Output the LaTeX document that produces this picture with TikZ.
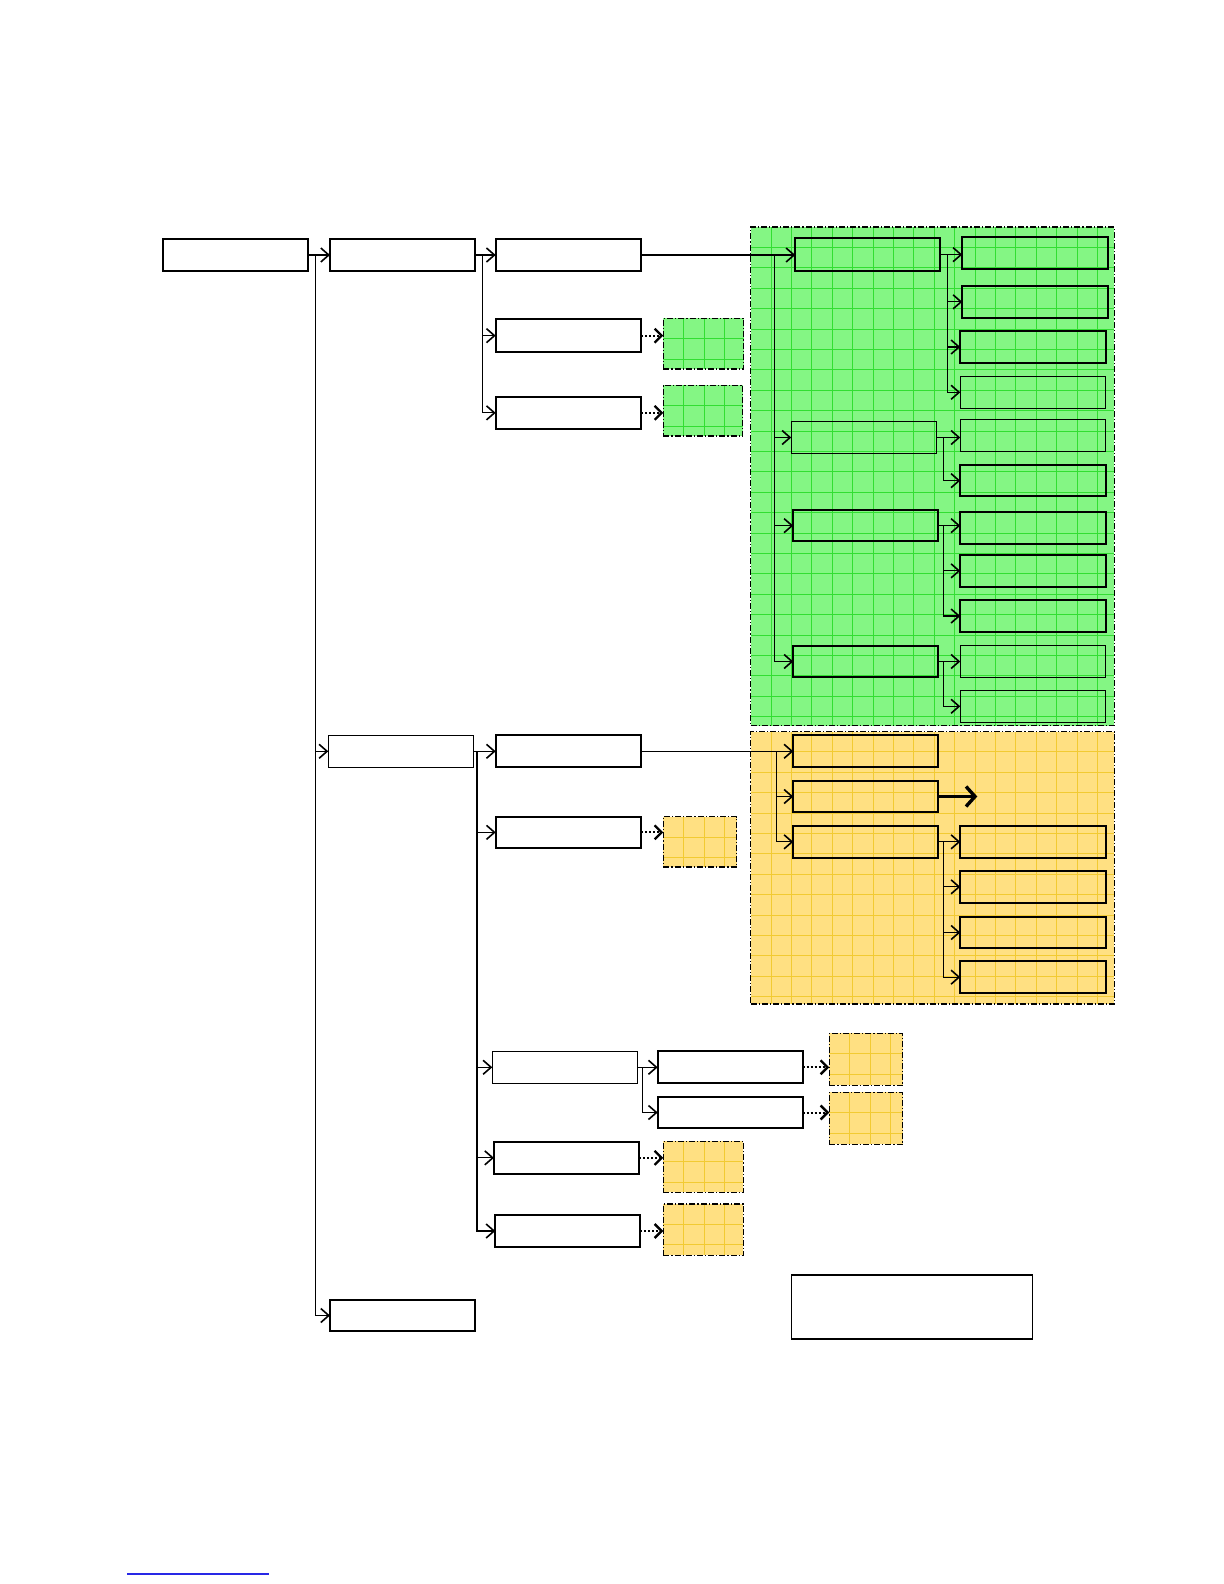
\documentclass[tikz,border=0pt]{standalone}
\usetikzlibrary{arrows.meta}
\definecolor{gfill}{RGB}{132,246,132}
\definecolor{gline}{RGB}{50,222,50}
\definecolor{yfill}{RGB}{255,224,130}
\definecolor{yline}{RGB}{242,202,50}
\definecolor{fnblue}{RGB}{40,40,230}
\tikzset{
  bx/.style={draw,inner sep=0pt,outer sep=0pt,line width=1.1pt},
  bxt/.style={draw,inner sep=0pt,outer sep=0pt,line width=0.7pt},
  region/.style={draw,inner sep=0pt,outer sep=0pt,line width=0.6pt,dash pattern=on 3pt off 1pt on 0.6pt off 1pt},
  con/.style={line width=0.6pt},
  arr/.style={con,-{Straight Barb[length=4pt,width=7pt,line width=0.8pt]}},
  dotarr/.style={line width=1pt,dash pattern=on 1pt off 1pt,-{Straight Barb[length=3.5pt,width=7pt,line width=1.2pt]}},
  bigarr/.style={line width=1.6pt,-{Straight Barb[length=4.5pt,width=10pt,line width=1.7pt]}}
}
\newcommand\BoxN[6]{\node[#2,minimum width={(#5-#3)*0.5pt},minimum height={(#6-#4)*0.5pt}] (#1) at ({(#3+#5)/2},{(#4+#6)/2}) {};}
\newcommand\GridRegion[7]{%
  \fill[#2] (#4,#5) rectangle (#6,#7);
  \begin{scope}
    \clip (#4,#5) rectangle (#6,#7);
    \foreach \k in {1,...,25}{%
      \draw[#3,line width=0.5pt] ({#4+20.4*\k},#5) -- ({#4+20.4*\k},#7);
      \draw[#3,line width=0.5pt] (#4,{#5+20.4*\k}) -- (#6,{#5+20.4*\k});
    }
  \end{scope}
  \BoxN{#1}{region}{#4}{#5}{#6}{#7}%
}
\begin{document}
\begin{tikzpicture}[x=0.5pt,y=-0.5pt]
\useasboundingbox[fill=white] (0,0) rectangle (1224,1584);

% shaded regions
\GridRegion{green}{gfill}{gline}{750.7}{227}{1114.3}{725.5}
\GridRegion{yellow}{yfill}{yline}{750.7}{731.5}{1114.3}{1004}
\GridRegion{gD}{gfill}{gline}{663.3}{318.3}{743.7}{369}
\GridRegion{gE}{gfill}{gline}{663.3}{385.3}{742.7}{436}
\GridRegion{yG}{yfill}{yline}{663.3}{816.7}{736.7}{867}
\GridRegion{yHa}{yfill}{yline}{829.3}{1033.3}{902.7}{1085.3}
\GridRegion{yHb}{yfill}{yline}{829.3}{1092.3}{902.7}{1144.3}
\GridRegion{yI}{yfill}{yline}{663.3}{1141.3}{743.3}{1192.3}
\GridRegion{yJ}{yfill}{yline}{663.3}{1204}{743.3}{1255.3}

% boxes
\BoxN{A}{bx}{162.7}{239}{308.3}{271}
\BoxN{B}{bx}{330}{239}{475}{271}
\BoxN{C}{bx}{495.7}{239}{641.3}{271}
\BoxN{D}{bx}{495.7}{319.3}{641.3}{352}
\BoxN{E}{bx}{495.7}{396.7}{641.3}{429}
\BoxN{Lb}{bxt}{328.3}{735.3}{473.7}{767.3}
\BoxN{Lc}{bx}{330}{1300}{475}{1331}
\BoxN{F}{bx}{495.7}{735.3}{641.3}{767.3}
\BoxN{G}{bx}{495.7}{816.7}{641.3}{848}
\BoxN{H}{bxt}{492.3}{1051.3}{637.7}{1083.3}
\BoxN{Ha}{bx}{657.7}{1051.3}{802.7}{1083.3}
\BoxN{Hb}{bx}{657.7}{1096.7}{802.7}{1128.3}
\BoxN{I}{bx}{494}{1141.7}{639.3}{1174}
\BoxN{J}{bx}{495.3}{1214.7}{640.3}{1247.3}
\BoxN{K}{bx}{795.3}{238.3}{940.3}{271}
\BoxN{Ka}{bx}{962.3}{236.7}{1107.7}{269}
\BoxN{Kb}{bx}{962.3}{285.7}{1107.7}{318}
\BoxN{Kc}{bx}{960.3}{330.7}{1105.7}{363.3}
\BoxN{Kd}{bxt}{960.3}{376.3}{1105.7}{408.3}
\BoxN{P}{bxt}{791.3}{421.7}{936.7}{453.3}
\BoxN{Pa}{bxt}{960.3}{419.3}{1105.7}{451.3}
\BoxN{Pb}{bx}{960.3}{465}{1105.7}{496.3}
\BoxN{Q}{bx}{793.3}{510}{938.3}{541.3}
\BoxN{Qa}{bx}{960.3}{511.7}{1105.7}{544}
\BoxN{Qb}{bx}{960.3}{554.7}{1105.7}{587}
\BoxN{Qc}{bx}{960.3}{600.3}{1105.7}{631.7}
\BoxN{R}{bx}{793.3}{645.7}{938.3}{677.3}
\BoxN{Ra}{bxt}{960.3}{645.7}{1105.7}{677.3}
\BoxN{Rb}{bxt}{960.3}{690.3}{1105.7}{722.3}
\BoxN{M}{bx}{793.3}{735.3}{938.3}{767.3}
\BoxN{Mb}{bx}{793.3}{780.7}{938.3}{812.3}
\BoxN{Mc}{bx}{793.3}{826}{938.3}{857.7}
\BoxN{Mca}{bx}{960.3}{826}{1105.7}{857.7}
\BoxN{Mcb}{bx}{960.3}{870.7}{1105.7}{903}
\BoxN{Mcc}{bx}{960.3}{916.7}{1105.7}{948.3}
\BoxN{Mcd}{bx}{960.3}{961.3}{1105.7}{993}
\BoxN{legend}{bxt}{791.3}{1275}{1032.7}{1339}

% junction points
\coordinate (t0) at (315.7,255);
\coordinate (b1) at (482.7,255);
\coordinate (b2) at (476.7,751.3);
\coordinate (g0) at (774.7,255);
\coordinate (k0) at (947.3,255);
\coordinate (p0) at (943.3,437.5);
\coordinate (q0) at (943.3,525.7);
\coordinate (r0) at (943.3,661.5);
\coordinate (m0) at (776.3,751.3);
\coordinate (mc0) at (943.3,841.9);
\coordinate (h0) at (642.7,1067.3);
\coordinate (mbend) at (977.3,796.5);
\coordinate (fnA) at (127,1574);
\coordinate (fnB) at (269,1574);

% connectors
\draw[arr] (A.east) -- (B.west);
\draw[arr] (t0) |- (Lb.west);
\draw[arr] (t0) |- (Lc.west);

\draw[arr] (B.east) -- (C.west);
\draw[arr] (b1) |- (D.west);
\draw[arr] (b1) |- (E.west);
\draw[dotarr] (D.east) -- (D.east -| gD.west);
\draw[dotarr] (E.east) -- (E.east -| gE.west);

\draw[arr] (C.east) -- (C.east -| K.west);
\draw[arr] (g0) |- (P.west);
\draw[arr] (g0) |- (Q.west);
\draw[arr] (g0) |- (R.west);

\draw[arr] (K.east) -- (K.east -| Ka.west);
\draw[arr] (k0) |- (Kb.west);
\draw[arr] (k0) |- (Kc.west);
\draw[arr] (k0) |- (Kd.west);

\draw[arr] (P.east) -- (P.east -| Pa.west);
\draw[arr] (p0) |- (Pb.west);
\draw[arr] (Q.east) -- (Q.east -| Qa.west);
\draw[arr] (q0) |- (Qb.west);
\draw[arr] (q0) |- (Qc.west);
\draw[arr] (R.east) -- (Ra.west);
\draw[arr] (r0) |- (Rb.west);

\draw[arr] (Lb.east) -- (F.west);
\draw[line width=1pt] (b2) -- (b2 |- J.west);
\draw[arr] (b2) |- (G.west);
\draw[arr] (b2) |- (H.west);
\draw[arr] (b2) |- (I.west);
\draw[arr] (b2) |- (J.west);
\draw[dotarr] (G.east) -- (G.east -| yG.west);
\draw[dotarr] (I.east) -- (I.east -| yI.west);
\draw[dotarr] (J.east) -- (J.east -| yJ.west);

\draw[arr] (H.east) -- (Ha.west);
\draw[arr] (h0) |- (Hb.west);
\draw[dotarr] (Ha.east) -- (Ha.east -| yHa.west);
\draw[dotarr] (Hb.east) -- (Hb.east -| yHb.west);

\draw[arr] (F.east) -- (M.west);
\draw[arr] (m0) |- (Mb.west);
\draw[arr] (m0) |- (Mc.west);
\draw[bigarr] (Mb.east) -- (mbend);
\draw[arr] (Mc.east) -- (Mca.west);
\draw[arr] (mc0) |- (Mcb.west);
\draw[arr] (mc0) |- (Mcc.west);
\draw[arr] (mc0) |- (Mcd.west);

% footnote rule
\draw[fnblue,line width=0.6pt] (fnA) -- (fnB);
\end{tikzpicture}
\end{document}
